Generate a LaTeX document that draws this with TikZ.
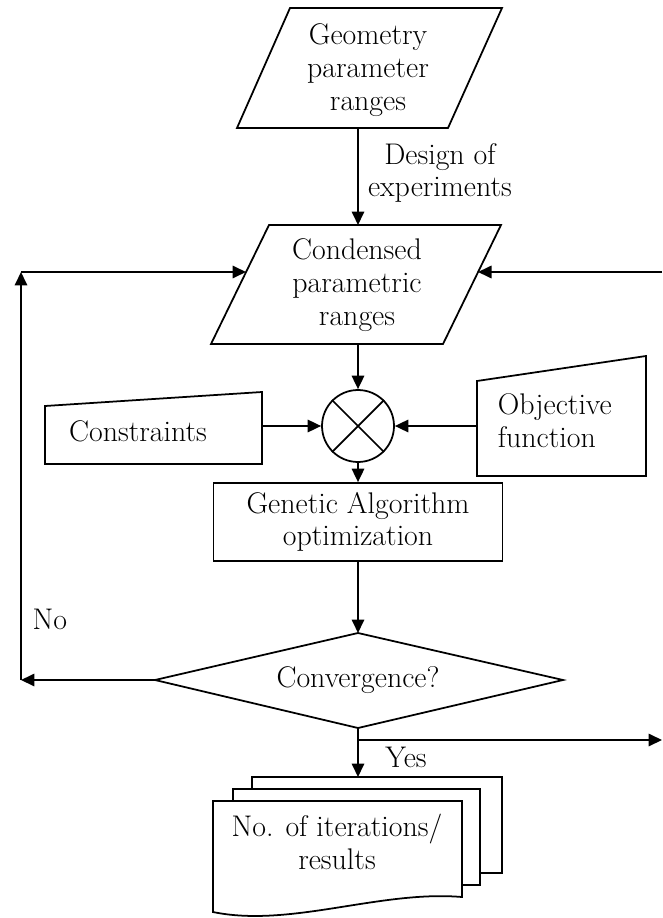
\documentclass[tikz,border=0pt]{standalone}
\usepackage{amsmath,amssymb}
\usepackage{tikz}
\usetikzlibrary{arrows.meta}
\usepackage{xcolor}
\begin{document}
\begin{tikzpicture}[x=0.02cm,y=-0.02cm,>={Triangle[length=2.7mm,width=2.5mm]},line width=1pt,font=\fontsize{17}{18.6}\selectfont,txt/.style={align=center,inner sep=0pt}]
\useasboundingbox (0,0) rectangle (662,918);
\draw (290,8) -- (502,8) -- (448,128) -- (237,128) -- cycle;
\node[txt] (geo) at (368,70) {Geometry\\parameter\\ranges};
\coordinate (geobot) at (358,128);
\coordinate (condtop) at (358,225);
\draw[->] (geobot) -- (condtop);
\node[txt] (doe) at (440,173) {Design of\\experiments};
\draw (269,225) -- (501,225) -- (443,344) -- (211,344) -- cycle;
\node[txt] (cond) at (357,285) {Condensed\\parametric\\ranges};
\coordinate (condbot) at (358,344);
\coordinate (condleft) at (246,272);
\coordinate (condright) at (478,272);
\node[draw,circle,minimum size=1.44cm,inner sep=0pt] (sum) at (358,426) {};
\draw (sum.north west) -- (sum.south east) (sum.north east) -- (sum.south west);
\draw[->] (condbot) -- (sum);
\draw (45,406) -- (262,392) -- (262,464) -- (45,464) -- cycle;
\node (cons) at (138,431) {Constraints};
\coordinate (consr) at (262,426);
\draw[->] (consr) -- (sum);
\draw (477,381) -- (646,356) -- (646,476) -- (477,476) -- cycle;
\node[align=left,anchor=west,inner sep=0pt] (obj) at (497,421) {Objective\\function};
\coordinate (objl) at (477,426);
\draw[->] (objl) -- (sum);
\node[draw,txt,minimum width=5.78cm,minimum height=1.56cm] (ga) at (358,522) {Genetic Algorithm\\optimization};
\draw[->] (sum) -- (ga);
\draw (358,633) -- (563,680) -- (358,728) -- (155,680) -- cycle;
\node (conv) at (358,680) {Convergence?};
\coordinate (dtop) at (358,633);
\coordinate (dleft) at (155,680);
\coordinate (dbot) at (358,728);
\draw[->] (ga) -- (dtop);
\coordinate (nocorner) at (21,680);
\coordinate (noup) at (21,272);
\draw[->] (dleft) -- (nocorner);
\draw[->] (nocorner) -- (noup);
\draw[->] (noup) -- (condleft);
\node[anchor=west] (no) at (26,619) {No};
\coordinate (rin) at (662,272);
\draw[->] (rin) -- (condright);
\draw[fill=white] (252,777) rectangle (502,873);
\draw[fill=white] (233,789) rectangle (480,885);
\draw[fill=white] (213,801) -- (462,801) -- (462,897) .. controls (380,890) and (290,928) .. (213,912) -- cycle;
\node[txt] (docs) at (337,842) {No. of iterations/\\results};
\coordinate (docstop) at (358,777);
\draw[->] (dbot) -- (docstop);
\coordinate (ybranch) at (358,740);
\coordinate (yout) at (662,740);
\draw[->] (ybranch) -- (yout);
\node (yes) at (406,757) {Yes};
\end{tikzpicture}
\end{document}
